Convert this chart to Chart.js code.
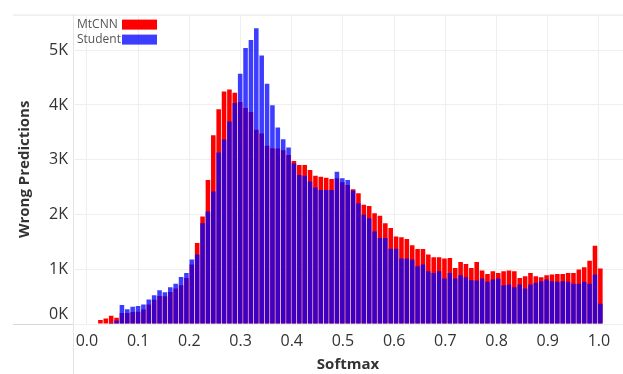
<!DOCTYPE html>
<html lang="en">
<head>
<meta charset="UTF-8">
<title>Wrong Predictions by Softmax</title>
<script src="https://cdn.jsdelivr.net/npm/chart.js"></script>
<style>
    body { margin: 0; background: #fff; }
    #wrap { width: 623px; height: 374px; }
</style>
</head>
<body>
<div id="wrap"><canvas id="histChart"></canvas></div>
<script>
    // histogram bins (softmax), first non-empty bin index
    const binSize = 0.0105;
    const firstBin = 2;

    // wrong predictions per bin
    const mtcnn = [73, 100, 150, 115, 200, 200, 220, 222, 267, 358,
        445, 512, 505, 585, 650, 709, 842, 1085, 1480,
        1963, 2630, 3448, 3921, 4248, 4284, 4224, 4054, 3945, 3872,
        3545, 3478, 3254, 3210, 3206, 3175, 3085, 2975, 2903, 2903,
        2812, 2709, 2690, 2670, 2648, 2660, 2588, 2539, 2460, 2388, 2176,
        2157, 2024, 1976, 1842, 1751, 1600, 1582, 1551, 1436, 1370,
        1370, 1267, 1218, 1218, 1194, 1206, 1024, 1133, 1097, 1024,
        1133, 976, 915, 964, 933, 964, 976, 964, 842, 873,
        933, 873, 854, 891, 903, 915, 915, 933, 933, 994,
        1036, 1157, 1430, 1012];
    const student = [0, 0, 20, 65, 345, 270, 315, 330, 358, 448,
        527, 615, 580, 673, 733, 860, 933, 1176, 1267,
        1842, 2054, 2418, 3133, 3369, 3700, 4036, 4570, 5042, 5187,
        5400, 4903, 4387, 3994, 3587, 3375, 3224, 2933, 2721, 2709,
        2600, 2491, 2448, 2448, 2448, 2782, 2660, 2630, 2440, 2206, 1994,
        1933, 1691, 1570, 1570, 1376, 1376, 1194, 1194, 1176, 1054,
        1085, 964, 933, 964, 830, 933, 830, 891, 854, 800,
        794, 830, 770, 812, 830, 709, 721, 673, 721, 648,
        721, 751, 782, 812, 782, 770, 782, 770, 733, 733,
        770, 733, 903, 370];

    const xTicks = [0, 0.1, 0.2, 0.3, 0.4, 0.5, 0.6, 0.7, 0.8, 0.9, 1.0];
    const yTicks = [0, 1000, 2000, 3000, 4000, 5000];
    const yTickLabels = ['0K', '1K', '2K', '3K', '4K', '5K'];

    const RED = '#ff0000';
    const BLUE = 'rgba(0, 0, 255, 0.76)';
    const FONT = '"Open Sans", "Noto Sans", sans-serif';

    function toPoints(values) {
        return values.map((v, i) => ({ x: (firstBin + i) * binSize + binSize / 2, y: v }));
    }

    // pane frame lines like the original dashboard
    const frame = {
        id: 'frame',
        beforeDraw(chart) {
            const { ctx, chartArea, width, height } = chart;
            ctx.save();
            ctx.lineWidth = 1;
            ctx.strokeStyle = '#e4e4e4';
            ctx.beginPath();
            ctx.moveTo(13, chartArea.top + 0.5);
            ctx.lineTo(width, chartArea.top + 0.5);
            ctx.moveTo(chartArea.left + 0.5, chartArea.top);
            ctx.lineTo(chartArea.left + 0.5, height);
            ctx.stroke();
            ctx.strokeStyle = '#d6d6d6';
            ctx.beginPath();
            ctx.moveTo(13, chartArea.bottom + 0.5);
            ctx.lineTo(width, chartArea.bottom + 0.5);
            ctx.stroke();
            ctx.restore();
        }
    };

    // legend: text first, colour swatch after it
    const legendBox = {
        id: 'legendBox',
        afterDraw(chart) {
            const { ctx, chartArea } = chart;
            const items = [['MtCNN', RED], ['Student', BLUE]];
            ctx.save();
            ctx.font = '12px ' + FONT;
            ctx.textBaseline = 'middle';
            items.forEach(([label, color], i) => {
                const y = chartArea.top + 10 + i * 15;
                ctx.fillStyle = '#555';
                ctx.fillText(label, chartArea.left + 4, y);
                ctx.fillStyle = color;
                ctx.fillRect(chartArea.left + 49, y - 5, 35, 10);
            });
            ctx.restore();
        }
    };

    new Chart(document.getElementById('histChart'), {
        type: 'bar',
        data: {
            datasets: [
                {
                    label: 'MtCNN',
                    data: toPoints(mtcnn),
                    backgroundColor: RED,
                    grouped: false,
                    order: 2,
                    barPercentage: 0.85,
                    categoryPercentage: 1
                },
                {
                    label: 'Student',
                    data: toPoints(student),
                    backgroundColor: BLUE,
                    grouped: false,
                    order: 1,
                    barPercentage: 0.85,
                    categoryPercentage: 1
                }
            ]
        },
        options: {
            responsive: true,
            maintainAspectRatio: false,
            animation: false,
            layout: { padding: { top: 12, left: 0, right: 0, bottom: 0 } },
            plugins: {
                legend: { display: false },
                tooltip: { enabled: false }
            },
            scales: {
                x: {
                    type: 'linear',
                    offset: false,
                    min: -0.0273,
                    max: 1.047,
                    afterBuildTicks: s => { s.ticks = xTicks.map(v => ({ value: v })); },
                    afterFit: s => { s.height = 50; },
                    ticks: {
                        callback: v => v.toFixed(1),
                        font: { family: FONT, size: 16 },
                        color: '#333',
                        padding: 8,
                        maxRotation: 0,
                        autoSkip: false
                    },
                    grid: { color: '#efefef', drawTicks: false, offset: false },
                    border: { display: false },
                    title: {
                        display: true,
                        text: 'Softmax',
                        font: { family: FONT, size: 15, weight: 'bold' },
                        color: '#333',
                        padding: { top: 0, bottom: 0 }
                    }
                },
                y: {
                    min: 0,
                    max: 5650,
                    afterBuildTicks: s => { s.ticks = yTicks.map(v => ({ value: v })); },
                    afterFit: s => { s.width = 73; },
                    ticks: {
                        // bottom label sits a little above the baseline, as in the original
                        callback: (v, i) => (i === 0 ? [yTickLabels[i], ''] : yTickLabels[i]),
                        font: { family: FONT, size: 16 },
                        color: '#333',
                        padding: 5
                    },
                    grid: { color: '#efefef', drawTicks: false },
                    border: { display: false },
                    title: {
                        display: true,
                        text: 'Wrong Predictions',
                        font: { family: FONT, size: 15, weight: 'bold' },
                        color: '#333',
                        padding: { top: 16, bottom: 0 }
                    }
                }
            }
        },
        plugins: [frame, legendBox]
    });
</script>
</body>
</html>
